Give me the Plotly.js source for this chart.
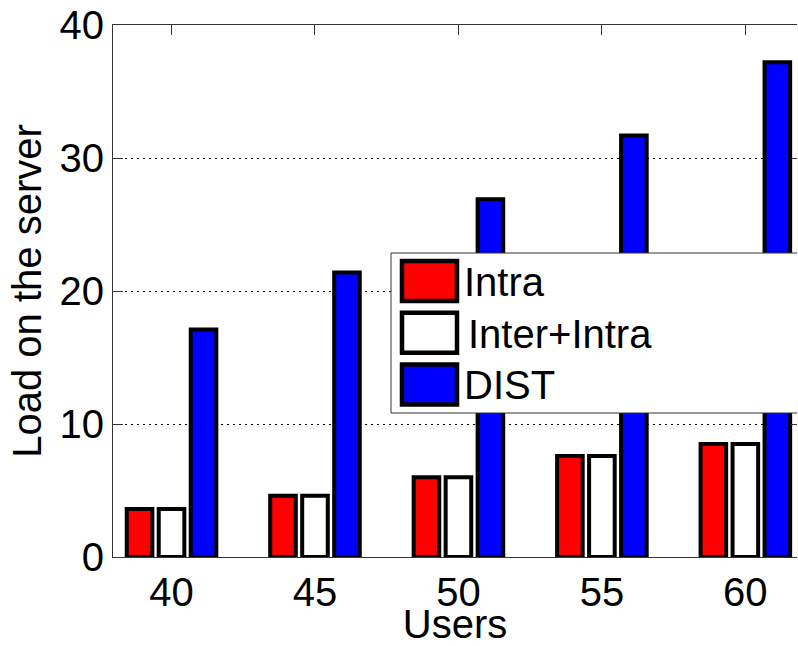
<!DOCTYPE html>
<html>
<head>
<meta charset="utf-8">
<script src="https://cdn.plot.ly/plotly-3.0.1.min.js"></script>
<style>
html,body{margin:0;padding:0;overflow:hidden;background:#fff;}
#chart{width:797px;height:646px;}
</style>
</head>
<body>
<div id="chart"></div>
<script>
// ---- data ----
const users = [40, 45, 50, 55, 60];
const intra = [3.6, 4.6, 6.0, 7.6, 8.5];
const interIntra = [3.6, 4.6, 6.0, 7.6, 8.5];
const dist = [17.1, 21.4, 26.9, 31.7, 37.2];
const seriesNames = ['Intra', 'Inter+Intra', 'DIST'];
const seriesColors = ['#ff0000', '#ffffff', '#0000ff'];
const yTickVals = [0, 10, 20, 30, 40];
const xTitle = 'Users';
const yTitle = 'Load on the server';

// ---- layout geometry ----
const W = 797, H = 646;
const M = {l: 113, r: 0, t: 25, b: 89};
const plotW = W - M.l - M.r, plotH = H - M.t - M.b;
const px = x => (x - M.l) / plotW;
const py = y => (M.t + plotH - y) / plotH;

const FONT = '"Liberation Sans", Arial, sans-serif';
const seriesData = [intra, interIntra, dist];

const traces = seriesData.map((vals, i) => ({
  type: 'bar',
  name: seriesNames[i],
  x: users,
  y: vals,
  marker: {color: seriesColors[i], line: {color: '#000000', width: 4}},
  hoverinfo: 'x+y+name'
}));
// empty helper trace so the right-side tick axis is drawn
traces.push({type: 'scatter', x: [], y: [], yaxis: 'y2', showlegend: false, hoverinfo: 'skip'});

// custom legend (big swatches); box runs off the right edge as in the reference
const shapes = [{
  type: 'rect', xref: 'paper', yref: 'paper', layer: 'above',
  x0: px(391), x1: px(801), y0: py(413), y1: py(253),
  fillcolor: '#ffffff', line: {color: '#333333', width: 1}
}];
const annotations = [];
const legTop = 281, legStep = 51.7;
seriesNames.forEach((nm, i) => {
  const cy = legTop + i * legStep;
  shapes.push({
    type: 'rect', xref: 'paper', yref: 'paper', layer: 'above',
    x0: px(402), x1: px(457), y0: py(cy + 20), y1: py(cy - 20),
    fillcolor: seriesColors[i], line: {color: '#000000', width: 4.5}
  });
  annotations.push({
    xref: 'paper', yref: 'paper', x: px(i === 1 ? 466 : 462), y: py(cy + 1),
    xanchor: 'left', yanchor: 'middle', showarrow: false, text: nm,
    font: {family: FONT, size: 40, color: '#000000'}
  });
});

const layout = {
  width: W, height: H,
  autosize: false,
  margin: M,
  paper_bgcolor: '#ffffff', plot_bgcolor: '#ffffff',
  showlegend: false,
  barmode: 'group',
  bargap: 0.331,
  bargroupgap: 0.2,
  font: {family: FONT, size: 40, color: '#000000'},
  xaxis: {
    range: [37.96, 61.8],
    tickvals: users,
    ticktext: users.map(String),
    ticks: 'inside', ticklen: 10, tickwidth: 1, tickcolor: '#333333',
    showline: true, linecolor: '#333333', linewidth: 1, mirror: 'ticks',
    showgrid: false, zeroline: false,
    layer: 'below traces',
    tickfont: {family: FONT, size: 40, color: '#000000'},
    title: {text: xTitle, font: {family: FONT, size: 40, color: '#000000'}, standoff: 8}
  },
  yaxis: {
    range: [0, 40],
    tickvals: yTickVals,
    ticks: 'inside', ticklen: 10, tickwidth: 1, tickcolor: '#333333',
    showline: true, linecolor: '#333333', linewidth: 1, mirror: false,
    showgrid: true, gridcolor: '#000000', gridwidth: 1, griddash: '2px,4px',
    zeroline: false,
    layer: 'below traces',
    tickfont: {family: FONT, size: 40, color: '#000000'},
    title: {text: yTitle, font: {family: FONT, size: 40, color: '#000000'}, standoff: 5}
  },
  yaxis2: {
    overlaying: 'y', side: 'right', anchor: 'x',
    range: [0, 40],
    tickvals: [10, 20, 30],
    ticks: 'inside', ticklen: 6, tickwidth: 1, tickcolor: '#333333',
    showticklabels: false, showline: false, showgrid: false, zeroline: false
  },
  shapes: shapes,
  annotations: annotations
};

Plotly.newPlot('chart', traces, layout, {displayModeBar: false, staticPlot: true});
</script>
</body>
</html>
